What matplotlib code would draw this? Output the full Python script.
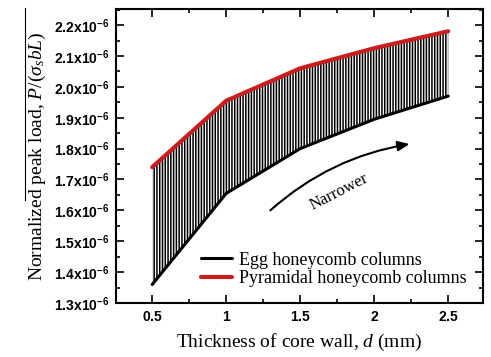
import matplotlib
matplotlib.use('Agg')
import matplotlib.pyplot as plt
import matplotlib.ticker as ticker
from matplotlib.lines import Line2D
import numpy as np

plt.rcParams['mathtext.fontset'] = 'custom'
plt.rcParams['mathtext.rm'] = 'Liberation Sans'
plt.rcParams['mathtext.bf'] = 'Liberation Sans:bold'
plt.rcParams['mathtext.it'] = 'Liberation Serif:italic'
plt.rcParams['hatch.linewidth'] = 1.1

# wall thickness d (mm)
d = [0.5, 1.0, 1.5, 2.0, 2.5]
# normalized peak load, in units of 1e-6
egg = [1.36, 1.655, 1.80, 1.895, 1.97]
pyramidal = [1.74, 1.955, 2.06, 2.125, 2.18]

fig = plt.figure(figsize=(4.91, 3.57), dpi=100)
ax = fig.add_axes([116/491, 54/357, 367/491, 294/357])

# hatched band between the two curves
ax.fill_between(d, egg, pyramidal, facecolor='white', edgecolor='black',
                hatch='||||||', linewidth=0)
ax.plot(d, egg, color='black', lw=2.2, solid_capstyle='round',
        label='Egg honeycomb columns')
ax.plot(d, pyramidal, color='#c81e1e', lw=3.0, solid_capstyle='round',
        label='Pyramidal honeycomb columns')

ax.set_xlim(0.255, 2.735)
ax.set_ylim(1.3, 2.252)

ax.xaxis.set_major_locator(ticker.MultipleLocator(0.5))
ax.xaxis.set_minor_locator(ticker.MultipleLocator(0.25))
ax.yaxis.set_major_locator(ticker.MultipleLocator(0.1))
ax.yaxis.set_minor_locator(ticker.MultipleLocator(0.05))
ax.xaxis.set_major_formatter(ticker.FuncFormatter(
    lambda v, p: r'$\mathbf{%g}$' % v))
ax.yaxis.set_major_formatter(ticker.FuncFormatter(
    lambda v, p: r'$\mathbf{%.1fx10^{-6}}$' % v))
ax.tick_params(which='both', direction='in', top=True, right=True,
               width=1.2, labelsize=10, pad=5)
ax.tick_params(which='major', length=6)
ax.tick_params(which='minor', length=3)
for s in ax.spines.values():
    s.set_linewidth(1.5)

ax.set_xlabel('Thickness of core wall, $d$ (mm)', family='Liberation Serif',
              fontsize=14, labelpad=6)
ax.set_ylabel('Normalized peak load, $P$/($\\sigma_s bL$)',
              family='Liberation Serif', fontsize=14, labelpad=4)
# overline above the normalized load part of the label
fig.add_artist(Line2D([25/491, 25/491], [1 - 8/357, 1 - 200/357],
                      color='black', lw=0.8))

ax.annotate('', xy=(2.257, 1.816), xytext=(1.284, 1.594),
            arrowprops=dict(arrowstyle='-|>,head_length=0.7,head_width=0.3',
                            connectionstyle='arc3,rad=-0.15',
                            color='black', lw=1.5))
ax.text(1.76, 1.66, 'Narrower', rotation=27, family='Liberation Serif',
        fontsize=12, ha='center', va='center')

ax.legend(loc='lower right', frameon=False, prop={'family': 'Liberation Serif', 'size': 13},
          handlelength=1.7, handletextpad=0.4, labelspacing=0.1,
          borderaxespad=0.3, bbox_to_anchor=(0.99, 0.01))

fig.savefig('out.png', dpi=100)
